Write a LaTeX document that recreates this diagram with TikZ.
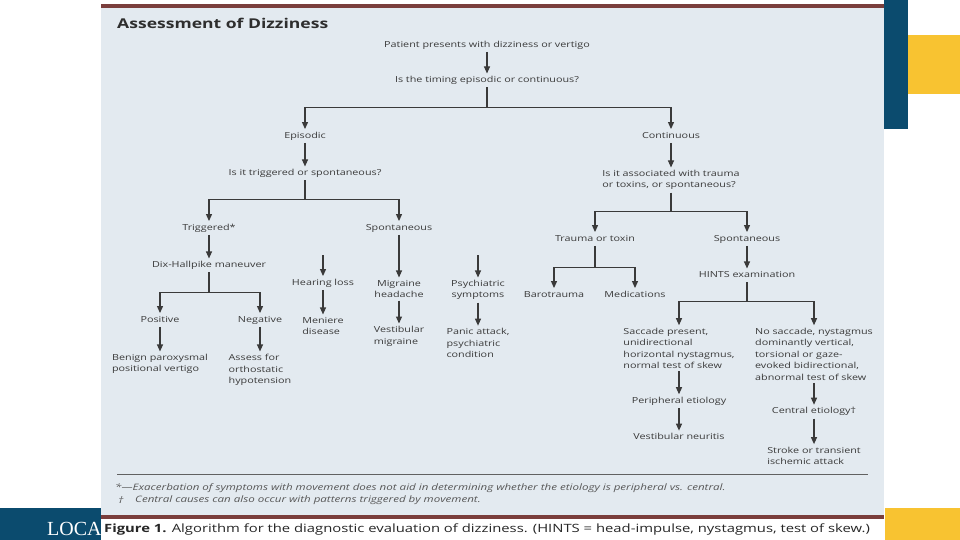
\documentclass[tikz,border=0pt]{standalone}
\usepackage{fontspec}
\setmainfont{Open Sans}[FakeStretch=1.3]
\newfontfamily\slidefont{Liberation Serif}
\usepackage{tikz}
\usetikzlibrary{positioning,arrows.meta,calc}
\definecolor{ink}{HTML}{3A3A3A}
\definecolor{panel}{HTML}{E3EAF0}
\definecolor{maroon}{HTML}{7A3E3C}
\definecolor{navy}{HTML}{0B4B6E}
\definecolor{gold}{HTML}{F8C331}
\tikzset{
  lbl/.style ={inner sep=2.5pt, text height=6.5pt, text depth=2pt, font=\fontsize{8.3}{11.5}\selectfont, text=ink},
  mlbl/.style={inner sep=2.5pt, font=\fontsize{8.3}{11.5}\selectfont, text=ink, align=left},
  clbl/.style={mlbl, align=center},
  link/.style={draw=ink, line width=1.1pt},
  note/.style={font=\fontsize{8.9}{10}\selectfont\itshape, text=ink!85, anchor=west, inner sep=0pt},
  >={Triangle[width=6pt,length=7pt]},
}

\begin{document}
\begin{tikzpicture}[x=1pt,y=-1pt]
\useasboundingbox (0,0) rectangle (960,540);
% slide frame
\fill[white] (0,0) rectangle (960,540);
\fill[navy] (884,0) rectangle (908,129);
\fill[gold] (908,35) rectangle (960,94);
\fill[navy] (0,508) rectangle (101,540);
\fill[gold] (885,508) rectangle (960,540);
\node[anchor=base west, inner sep=0pt, text=white, font=\slidefont\fontsize{20}{20}\selectfont] (brand) at (47,535) {LOCAL};
% scanned figure
\fill[panel] (101,4) rectangle (884,519);
\fill[maroon] (101,4) rectangle (884,8);
\fill[maroon] (101,515) rectangle (884,519);
\fill[white] (101,519) rectangle (885,540);
\node[anchor=west, inner sep=0pt, font=\fontsize{13.5}{15}\selectfont\bfseries, text=ink!80!black] (ttl) at (117,23) {Assessment of Dizziness};

% top of the tree
\node[lbl] (start) at (487,45) {Patient presents with dizziness or vertigo};
\node[lbl] (q1) [below=21.5pt of start] {Is the timing episodic or continuous?};
\coordinate (f1) at ($(q1.south)+(0,20)$);
\node[lbl] (epi) at (305,136) {Episodic};
\node[lbl] (cont) at (671,136) {Continuous};
\draw[link,->] (start) -- (q1);
\draw[link] (q1) -- (f1);
\draw[link,->] (f1) -| (epi);
\draw[link,->] (f1) -| (cont);

% episodic
\node[lbl] (q2) [below=23.5pt of epi] {Is it triggered or spontaneous?};
\coordinate (f2) at ($(q2.south)+(0,19.25)$);
\node[lbl] (trig) at (209,228) {Triggered*};
\node[lbl] (spon) at (399,228) {Spontaneous};
\draw[link,->] (epi) -- (q2);
\draw[link] (q2) -- (f2);
\draw[link,->] (f2) -| (trig);
\draw[link,->] (f2) -| (spon);

\node[lbl] (dix) [below=23.5pt of trig] {Dix-Hallpike maneuver};
\coordinate (f3) at ($(dix.south)+(0,20.25)$);
\node[lbl] (pos) at (160,320) {Positive};
\node[lbl] (neg) at (260,320) {Negative};
\node[mlbl] (bppv) [below=24.5pt of pos] {Benign paroxysmal\\positional vertigo};
\node[mlbl] (ortho) [below=24.5pt of neg] {Assess for\\orthostatic\\hypotension};
\draw[link,->] (trig) -- (dix);
\draw[link] (dix) -- (f3);
\draw[link,->] (f3) -| (pos);
\draw[link,->] (f3) -| (neg);
\draw[link,->] (pos) -- (bppv);
\draw[link,->] (neg) -- (ortho);

\node[clbl] (mig) [below=42.5pt of spon] {Migraine\\headache};
\node[lbl] (hear) at (323,283) {Hearing loss};
\coordinate (hearin) at ($(hear.north)+(0,-21)$);
\node[clbl, anchor=north] (psy) at (478,0 |- mig.north) {Psychiatric\\symptoms};
\coordinate (psyin) at ($(psy.north)+(0,-22)$);
\node[mlbl] (men) [below=24.5pt of hear] {Meniere\\disease};
\node[mlbl] (vmig) [below=23pt of mig] {Vestibular\\migraine};
\node[mlbl] (panic) [below=23pt of psy] {Panic attack,\\psychiatric\\condition};
\draw[link,->] (spon) -- (mig);
\draw[link,->] (hearin) -- (hear);
\draw[link,->] (psyin) -- (psy);
\draw[link,->] (hear) -- (men);
\draw[link,->] (mig) -- (vmig);
\draw[link,->] (psy) -- (panic);

% continuous
\node[mlbl] (q3) [below=24.5pt of cont] {Is it associated with trauma\\or toxins, or spontaneous?};
\coordinate (f4) at ($(q3.south)+(0,19)$);
\node[lbl] (trau) at (595,239) {Trauma or toxin};
\node[lbl] (spon2) at (747,239) {Spontaneous};
\draw[link,->] (cont) -- (q3);
\draw[link] (q3) -- (f4);
\draw[link,->] (f4) -| (trau);
\draw[link,->] (f4) -| (spon2);

\coordinate (f5) at ($(trau.south)+(0,21.25)$);
\node[lbl] (baro) at (554,295) {Barotrauma};
\node[lbl] (meds) at (635,295) {Medications};
\draw[link] (trau) -- (f5);
\draw[link,->] (f5) -| (baro);
\draw[link,->] (f5) -| (meds);

\node[lbl] (hints) [below=22.5pt of spon2] {HINTS examination};
\coordinate (f6) at ($(hints.south)+(0,19.25)$);
\node[mlbl, anchor=north] (sacc) at (679,325.2) {Saccade present,\\unidirectional\\horizontal nystagmus,\\normal test of skew};
\node[mlbl, anchor=north] (nosac) at (814,325.2) {No saccade, nystagmus\\dominantly vertical,\\torsional or gaze-\\evoked bidirectional,\\abnormal test of skew};
\draw[link,->] (spon2) -- (hints);
\draw[link] (hints) -- (f6);
\draw[link,->] (f6) -| (sacc);
\draw[link,->] (f6) -| (nosac);

\node[lbl] (peri) [below=22.75pt of sacc] {Peripheral etiology};
\node[lbl] (vneu) [below=22.5pt of peri] {Vestibular neuritis};
\node[lbl] (cent) [below=21.75pt of nosac] {Central etiology†};
\node[mlbl] (stroke) [below=25.5pt of cent] {Stroke or transient\\ischemic attack};
\draw[link,->] (sacc) -- (peri);
\draw[link,->] (peri) -- (vneu);
\draw[link,->] (nosac) -- (cent);
\draw[link,->] (cent) -- (stroke);

% footnotes and caption
\draw[draw=ink!80, line width=1pt] (117,474) -- (868,474);
\node[note] (fn1) at (115,488) {*—Exacerbation of symptoms with movement does not aid in determining whether the etiology is peripheral vs. central.};
\node[note] (fn2m) at (118,500) {†};
\node[note] (fn2) at (135,500) {Central causes can also occur with patterns triggered by movement.};
\node[anchor=west, inner sep=0pt, font=\fontsize{11.4}{13}\selectfont, text=black!85] (cap) at (104,530) {\textbf{Figure 1.} Algorithm for the diagnostic evaluation of dizziness. (HINTS = head-impulse, nystagmus, test of skew.)};
\end{tikzpicture}
\end{document}
